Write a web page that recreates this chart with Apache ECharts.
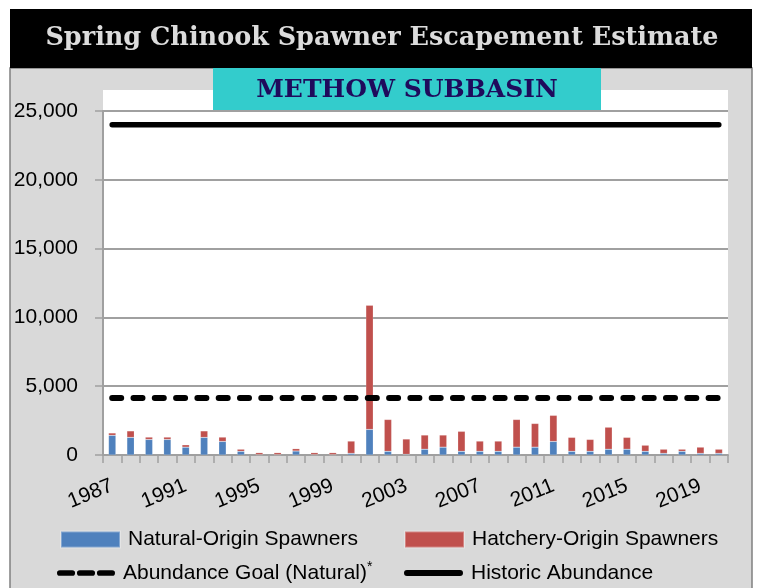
<!DOCTYPE html>
<html>
<head>
<meta charset="utf-8">
<script src="https://cdn.jsdelivr.net/npm/echarts@6/dist/echarts.min.js"></script>
<style>
html,body{margin:0;padding:0;background:#fff;}
#c{width:760px;height:588px;}
</style>
</head>
<body>
<div id="c"></div>
<script>
const years = ['1987','1988','1989','1990','1991','1992','1993','1994','1995','1996','1997','1998','1999','2000','2001','2002','2003','2004','2005','2006','2007','2008','2009','2010','2011','2012','2013','2014','2015','2016','2017','2018','2019','2020'];
const natural = [1430,1280,1130,1130,570,1280,985,270,30,30,290,30,30,120,1860,270,50,420,570,270,270,270,570,570,985,270,270,420,420,270,120,270,120,120];
const hatchery = [170,470,170,170,170,470,315,150,140,140,170,140,140,890,9020,2310,1110,1030,880,1450,740,740,2010,1720,1895,1010,860,1600,860,440,300,150,450,300];
const goal = [4150,4150,4150,4150,4150,4150,4150,4150,4150,4150,4150,4150,4150,4150,4150,4150,4150,4150,4150,4150,4150,4150,4150,4150,4150,4150,4150,4150,4150,4150,4150,4150,4150,4150];
const historic = [24000,24000,24000,24000,24000,24000,24000,24000,24000,24000,24000,24000,24000,24000,24000,24000,24000,24000,24000,24000,24000,24000,24000,24000,24000,24000,24000,24000,24000,24000,24000,24000,24000,24000];
const yTicks = {min: 0, max: 25000, interval: 5000};

const FONT = '"Liberation Sans", Arial, sans-serif';
const DASH_ICON = 'path://M3,0H16A3,3 0 0 1 16,6H3A3,3 0 0 1 3,0Z M24,0H37A3,3 0 0 1 37,6H24A3,3 0 0 1 24,0Z M45,0H58A3,3 0 0 1 58,6H45A3,3 0 0 1 45,0Z';
const SOLID_ICON = 'path://M3,0H57A3,3 0 0 1 57,6H3A3,3 0 0 1 3,0Z';
const legText = {fontFamily: FONT, fontSize: 21, color: '#000', padding: [0, 0, 0, 3],
  rich: {sup: {fontFamily: FONT, fontSize: 14, color: '#000', verticalAlign: 'top', padding: [0, 0, 12, 0]}}};
function legendFor(name, left, top, icon, w, h, sup) {
  return {
    data: [{name: name, icon: icon}],
    left: left, top: top, orient: 'horizontal', padding: 0,
    itemWidth: w, itemHeight: h, selectedMode: false,
    formatter: function (n) { return sup === null ? n : n + '{sup|' + sup + '}'; },
    textStyle: legText
  };
}

const chart = echarts.init(document.getElementById('c'), null, {renderer: 'canvas'});
const option = {
  backgroundColor: '#ffffff',
  animation: false,
  graphic: [
    {type: 'rect', z: -10, shape: {x: 10, y: 68, width: 742, height: 530}, style: {fill: '#d9d9d9', stroke: '#808080', lineWidth: 1.5}},
    {type: 'rect', z: -10, shape: {x: 10, y: 9, width: 742, height: 59}, style: {fill: '#000000'}},
    {type: 'rect', z: -9, shape: {x: 103, y: 90, width: 625, height: 365}, style: {fill: '#ffffff'}},
    {type: 'rect', z: 5, shape: {x: 213, y: 68, width: 388, height: 42}, style: {fill: '#33cccc'}},
    {type: 'text', z: 6, x: 382, y: 38, style: {text: 'Spring Chinook Spawner Escapement Estimate', fill: '#dcdcdc', font: 'bold 25.5px "DejaVu Serif", serif', textAlign: 'center', textVerticalAlign: 'middle'}},
    {type: 'text', z: 6, x: 407, y: 90, style: {text: 'METHOW SUBBASIN', fill: '#1f0a5c', font: 'bold 25px "DejaVu Serif", serif', textAlign: 'center', textVerticalAlign: 'middle'}}
  ],
  legend: [
    legendFor('Natural-Origin Spawners', 60, 529, 'rect', 59, 16, null),
    legendFor('Hatchery-Origin Spawners', 404, 529, 'rect', 59, 16, null),
    legendFor('Abundance Goal (Natural)', 57, 560, DASH_ICON, 58, 6, '*'),
    legendFor('Historic Abundance', 404, 560, SOLID_ICON, 59, 6, ' ')
  ],
  grid: {left: 103, right: 32, top: 111, bottom: 133, show: true, backgroundColor: 'rgba(0,0,0,0)', borderWidth: 0},
  xAxis: {
    type: 'category', data: years, boundaryGap: true,
    axisLine: {lineStyle: {color: '#a0a0a0', width: 2}},
    axisTick: {show: true, interval: 0, alignWithLabel: false, length: 8, lineStyle: {color: '#a0a0a0', width: 1.5}},
    axisLabel: {interval: 3, rotate: 22, margin: 30, fontFamily: FONT, fontSize: 21, color: '#000'}
  },
  yAxis: {
    type: 'value', min: yTicks.min, max: yTicks.max, interval: yTicks.interval,
    axisLine: {show: true, lineStyle: {color: '#a0a0a0', width: 2}},
    axisTick: {show: true, length: 8, lineStyle: {color: '#a0a0a0', width: 1.5}},
    splitLine: {show: true, lineStyle: {color: '#a0a0a0', width: 2}},
    axisLabel: {margin: 25, fontFamily: FONT, fontSize: 21, color: '#000',
      formatter: function (v) { return v.toLocaleString('en-US'); }}
  },
  series: [
    {name: 'Natural-Origin Spawners', type: 'bar', stack: 'a', data: natural, barWidth: '40%',
      itemStyle: {color: '#4f81bd', borderColor: 'rgba(255,255,255,0.3)', borderWidth: 0.5}},
    {name: 'Hatchery-Origin Spawners', type: 'bar', stack: 'a', data: hatchery, barWidth: '40%',
      itemStyle: {color: '#c0504d', borderColor: 'rgba(255,255,255,0.3)', borderWidth: 0.5}},
    {name: 'Abundance Goal (Natural)', type: 'line', data: goal, symbol: 'none', z: 3,
      lineStyle: {color: '#000', width: 6, type: [9, 12.3], cap: 'round'}, itemStyle: {color: '#000'}},
    {name: 'Historic Abundance', type: 'line', data: historic, symbol: 'none', z: 3,
      lineStyle: {color: '#000', width: 5.5, cap: 'round'}, itemStyle: {color: '#000'}}
  ]
};
chart.setOption(option);
</script>
</body>
</html>
